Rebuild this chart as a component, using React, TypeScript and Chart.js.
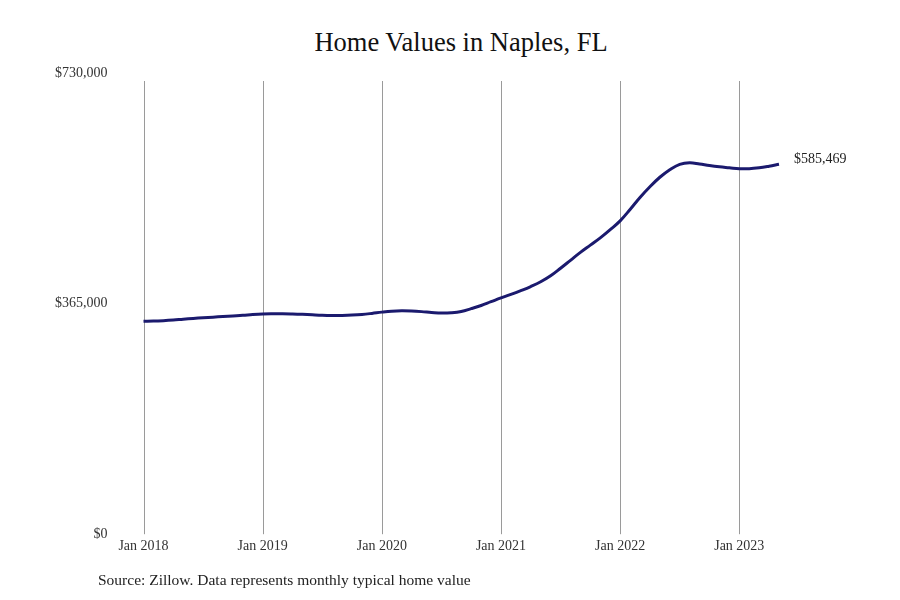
import { useEffect, useRef } from "react"
import { Chart, registerables } from "chart.js"

Chart.register(...registerables)

const SERIF = "'Liberation Serif', 'DejaVu Serif', serif"

const chartTitle = "Home Values in Naples, FL"
const sourceNote = "Source: Zillow. Data represents monthly typical home value"
const endLabel = "$585,469"

const years = [2018, 2019, 2020, 2021, 2022, 2023]
const monthNames = ["Jan", "Feb", "Mar", "Apr", "May", "Jun", "Jul", "Aug", "Sep", "Oct", "Nov", "Dec"]
const yTicks = [0, 365000, 730000]

// typical home value by month (thousands of dollars)
const values2018 = [337.0, 337.3, 338.0, 339.0, 340.3, 341.5, 342.5, 343.5, 344.5, 345.5, 346.5, 347.8]
const values2019 = [348.7, 349.0, 349.0, 348.6, 348.0, 347.2, 346.5, 346.2, 346.3, 346.8, 347.8, 349.5]
const values2020 = [351.5, 353.0, 353.5, 353.2, 352.3, 351.0, 350.0, 350.5, 352.5, 357.0, 362.0, 368.0]
const values2021 = [374.0, 379.5, 385.5, 392.0, 399.5, 409.0, 421.0, 433.5, 446.0, 457.5, 469.0, 482.0]
const values2022 = [496.0, 514.0, 533.0, 550.0, 565.0, 577.0, 585.5, 588.0, 586.0, 583.5, 581.5, 580.0]
const values2023 = [578.5, 578.5, 580.0, 582.5, 585.469]

const homeValues = [...values2018, ...values2019, ...values2020, ...values2021, ...values2022, ...values2023].map(
  (v) => v * 1000
)
const monthLabels = homeValues.map((_, i) => `${monthNames[i % 12]} ${years[Math.floor(i / 12)]}`)

const money = (v: number) => "$" + Math.round(v).toLocaleString("en-US")

// vertical lines only at January ticks, starting a little below the top
const janLines = {
  id: "janLines",
  beforeDatasetsDraw(chart: any) {
    const { ctx, chartArea, scales } = chart
    ctx.save()
    ctx.strokeStyle = "#9a9a9a"
    ctx.lineWidth = 1
    monthLabels.forEach((label, i) => {
      if (!label.startsWith("Jan")) return
      const x = Math.round(scales.x.getPixelForValue(i)) + 0.5
      ctx.beginPath()
      ctx.moveTo(x, chartArea.top + 8)
      ctx.lineTo(x, chartArea.bottom)
      ctx.stroke()
    })
    ctx.restore()
  },
}

const lastValueLabel = {
  id: "lastValueLabel",
  afterDatasetsDraw(chart: any) {
    const pts = chart.getDatasetMeta(0).data
    const last = pts[pts.length - 1]
    if (!last) return
    const { ctx } = chart
    ctx.save()
    ctx.font = `14px ${SERIF}`
    ctx.fillStyle = "#222"
    ctx.textAlign = "left"
    ctx.textBaseline = "middle"
    ctx.fillText(endLabel, last.x + 15, last.y - 5)
    ctx.restore()
  },
}

export default function App() {
  const canvasRef = useRef<HTMLCanvasElement | null>(null)

  useEffect(() => {
    if (!canvasRef.current) return
    const chart = new Chart(canvasRef.current, {
      type: "line",
      data: {
        labels: monthLabels,
        datasets: [
          {
            label: "Home value",
            data: homeValues,
            borderColor: "#1b1a6e",
            borderWidth: 3,
            pointRadius: 0,
            tension: 0.4,
            fill: false,
          },
        ],
      },
      options: {
        responsive: true,
        maintainAspectRatio: false,
        animation: false,
        layout: { padding: { left: 19, right: 121, top: 73, bottom: 41 } },
        plugins: {
          legend: { display: false },
          tooltip: { enabled: false },
          title: { display: false },
        },
        scales: {
          x: {
            type: "category",
            offset: false,
            grid: { display: false, drawTicks: false },
            border: { display: false },
            ticks: {
              autoSkip: false,
              maxRotation: 0,
              minRotation: 0,
              padding: 4,
              color: "#333",
              font: { family: SERIF, size: 14 },
              callback: (_v: any, i: number) => (i % 12 === 0 ? monthLabels[i] : ""),
            },
          },
          y: {
            min: yTicks[0],
            max: yTicks[yTicks.length - 1],
            grid: { display: false, drawTicks: false },
            border: { display: false },
            afterBuildTicks: (axis: any) => {
              axis.ticks = yTicks.map((v) => ({ value: v }))
            },
            ticks: {
              padding: 36,
              color: "#333",
              font: { family: SERIF, size: 14 },
              callback: (v: any) => money(Number(v)),
            },
          },
        },
      },
      plugins: [janLines, lastValueLabel],
    })
    return () => chart.destroy()
  }, [])

  return (
    <div style={{ position: "fixed", left: 0, top: 0, width: 900, height: 600, background: "#fff" }}>
      <div
        style={{
          position: "absolute",
          left: 0,
          top: 26,
          width: 922,
          textAlign: "center",
          fontFamily: SERIF,
          fontSize: 26.5,
          lineHeight: "32px",
          color: "#111",
          whiteSpace: "nowrap",
        }}
      >
        {chartTitle}
      </div>
      <div style={{ position: "absolute", left: 0, top: 0, width: 900, height: 600 }}>
        <canvas ref={canvasRef} />
      </div>
      <div
        style={{
          position: "absolute",
          left: 98,
          top: 571,
          fontFamily: SERIF,
          fontSize: 15.5,
          lineHeight: "18px",
          color: "#222",
          whiteSpace: "nowrap",
        }}
      >
        {sourceNote}
      </div>
    </div>
  )
}
